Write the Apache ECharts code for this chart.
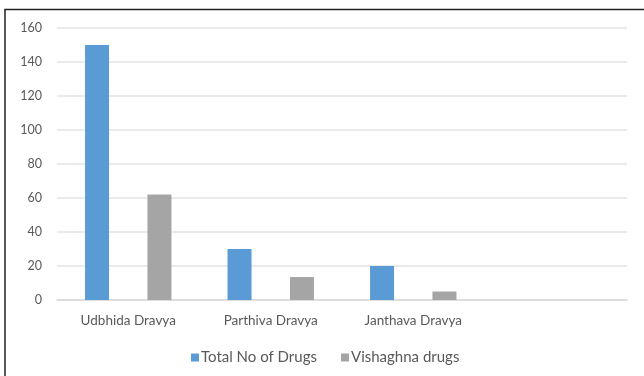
<!DOCTYPE html>
<html>
<head>
<meta charset="utf-8">
<script src="https://cdn.jsdelivr.net/npm/echarts@6/dist/echarts.min.js"></script>
<style>
  html, body { margin: 0; padding: 0; background: #fff; }
  #main { width: 644px; height: 376px; }
</style>
</head>
<body>
<div id="main"></div>
<script>
// categories (the last one is an empty slot, as in the source chart)
const categories = ['Udbhida Dravya', 'Parthiva Dravya', 'Janthava Dravya', ''];
const totalDrugs = [150, 30, 20, null];
const vishaghnaDrugs = [62, 13.5, 5, null];
const seriesNames = ['Total No of Drugs', 'Vishaghna drugs'];

const chart = echarts.init(document.getElementById('main'));
const labelFont = 'Lato, "Open Sans", sans-serif';

const option = {
  animation: false,
  textStyle: { fontFamily: labelFont },
  grid: { left: 57, right: 17, top: 28, bottom: 76 },
  graphic: [
    {
      type: 'polyline',
      shape: { points: [[5, 376], [5, 9.5], [644, 9.5]] },
      style: { stroke: '#222', lineWidth: 1.5, fill: null }
    }
  ],
  legend: {
    data: seriesNames,
    bottom: 11,
    left: 191,
    padding: 0,
    itemWidth: 8,
    itemHeight: 8,
    itemGap: 24,
    icon: 'rect',
    textStyle: { color: '#595959', fontSize: 15, fontFamily: labelFont, padding: [0, 0, 0, -3] }
  },
  xAxis: {
    type: 'category',
    data: categories,
    axisLine: { lineStyle: { color: '#d9d9d9', width: 1.5 } },
    axisTick: { show: false },
    axisLabel: { color: '#595959', fontSize: 13.5, margin: 14, fontFamily: labelFont }
  },
  yAxis: {
    type: 'value',
    min: 0,
    max: 160,
    interval: 20,
    axisLine: { show: false },
    axisTick: { show: false },
    axisLabel: { color: '#595959', fontSize: 12.5, margin: 15, fontFamily: labelFont },
    splitLine: { lineStyle: { color: '#e3e3e3', width: 1.5 } }
  },
  series: [
    {
      name: seriesNames[0],
      type: 'bar',
      data: totalDrugs,
      barWidth: 24,
      barGap: '160%',
      itemStyle: { color: '#5b9bd5' }
    },
    {
      name: seriesNames[1],
      type: 'bar',
      data: vishaghnaDrugs,
      barWidth: 24,
      barGap: '160%',
      itemStyle: { color: '#a5a5a5' }
    }
  ]
};

chart.setOption(option);
</script>
</body>
</html>
